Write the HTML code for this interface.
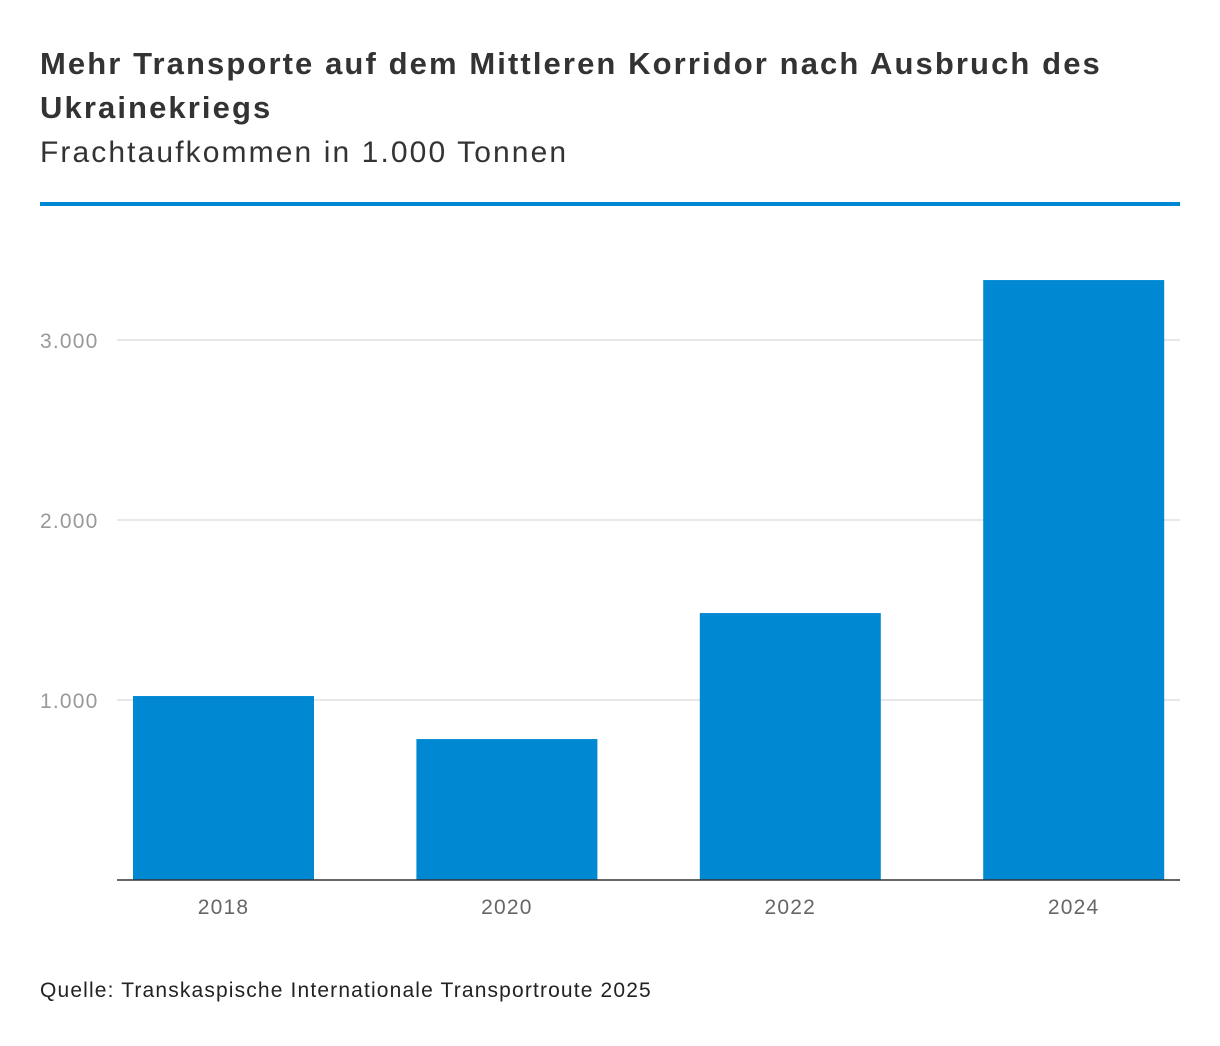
<!DOCTYPE html>
<html><head><meta charset="utf-8"><style>
body{margin:0;background:#fff;font-family:"Liberation Sans",sans-serif;}
#wrap{position:relative;width:1220px;height:1046px;}
.t{position:absolute;left:40px;color:#333;white-space:nowrap;}
</style></head><body>
<div id="wrap">
<div class="t" style="top:42px;font-size:31px;font-weight:bold;line-height:44px;letter-spacing:2.1px;">Mehr Transporte auf dem Mittleren Korridor nach Ausbruch des<br>Ukrainekriegs</div>
<div class="t" style="top:136px;font-size:30px;letter-spacing:2.1px;">Frachtaufkommen in 1.000 Tonnen</div>
<div style="position:absolute;left:40px;top:202px;width:1140px;height:4px;background:#0088d2;"></div>
<svg id="chart" width="1220" height="1046" style="position:absolute;left:0;top:0"></svg>
<div class="t" style="top:979px;font-size:21px;color:#222;letter-spacing:1.15px;">Quelle: Transkaspische Internationale Transportroute 2025</div>
</div>
<script>
const categories=["2018","2020","2022","2024"];
const values=[1022,783,1483,3333];
const ticks=[1000,2000,3000];
const tickLabels=["1.000","2.000","3.000"];
const svg=document.getElementById('chart');
const NS="http://www.w3.org/2000/svg";
const y=v=>880-v*0.18;
const xc=i=>223.5+i*283.4;
const bw=181;
function mk(t,a){const e=document.createElementNS(NS,t);for(const k in a)e.setAttribute(k,a[k]);svg.appendChild(e);return e;}
ticks.forEach((t,i)=>{
 const l=mk('line',{x1:117,x2:1180,y1:y(t),y2:y(t),stroke:'#e0e0e0','stroke-width':1.5});
 
 
 const tx=mk('text',{x:40,y:y(t)+8,'font-size':21,fill:'#999','letter-spacing':1.2,'font-family':'Liberation Sans, sans-serif'});
 tx.textContent=tickLabels[i];
 
 
});
categories.forEach((c,i)=>{
 const r=mk('rect',{x:xc(i)-bw/2,y:y(values[i]),width:bw,height:880-y(values[i]),fill:'#0088d2'});
 
 
 const tx=mk('text',{x:xc(i),y:914,'font-size':21,fill:'#666','letter-spacing':1.2,'text-anchor':'middle','font-family':'Liberation Sans, sans-serif'});
 tx.textContent=c;
 
 
});
const ax=mk('line',{x1:117,x2:1180,y1:880,y2:880,stroke:'#333','stroke-width':1.5});


</script>
</body></html>
